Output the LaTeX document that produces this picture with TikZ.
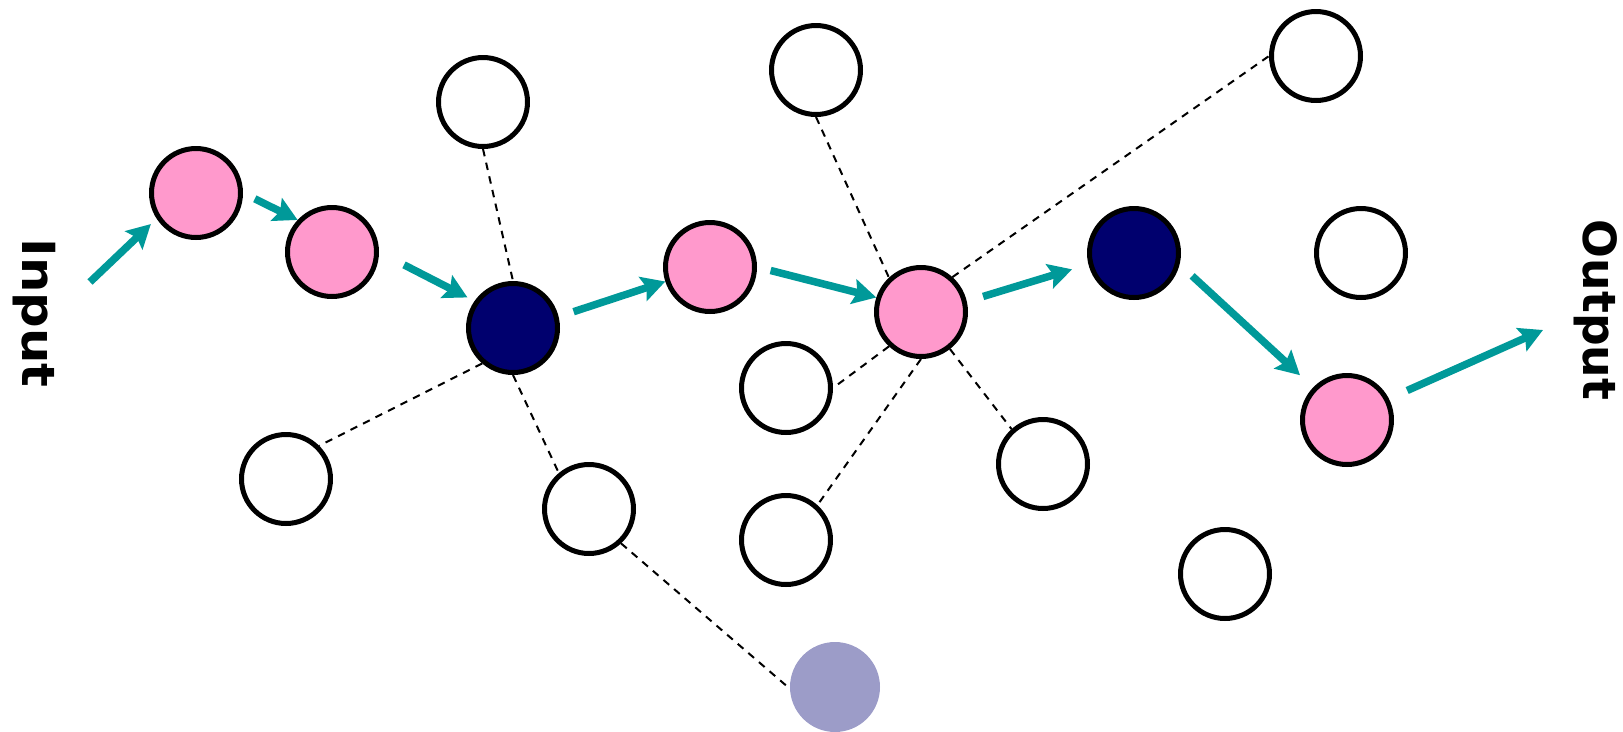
\documentclass[tikz,border=0pt]{standalone}
\usepackage{fontspec}
\newfontfamily\labelfont{DejaVu Sans}
\newfontfamily\widelabelfont{DejaVu Sans}[FakeStretch=1.09]
\usetikzlibrary{arrows.meta}
\definecolor{cellpink}{RGB}{255,153,204}
\definecolor{cellnavy}{RGB}{0,0,110}
\definecolor{cellgrey}{RGB}{156,156,200}
\definecolor{flowteal}{RGB}{0,153,153}
\newcommand*{\PlaceCells}[1]{% #1 = list of name/x/y/color
  \foreach \n/\x/\y/\c in {#1} {
    \node [cell, fill=\c] (\n) at (\x,\y) {};
    }%
}

\begin{document}
\begin{tikzpicture}[x=0.02cm,y=-0.02cm,
    cell/.style={circle,draw=black,line width=0.1cm,minimum size=1.78cm,inner sep=0pt},
    link/.style={black,line width=0.04cm,dash pattern=on 0.15cm off 0.13cm},
    flow/.style={flowteal,line width=0.15cm,-{Stealth[length=0.47cm,width=0.5cm,inset=0.08cm]}},
    tag/.style={font=\labelfont\bfseries\fontsize{26}{30}\selectfont,rotate=-90,inner sep=0pt}]
        \useasboundingbox (0,0) rectangle (1623,731);
        \PlaceCells{p1/196/193/cellpink, p2/332/252/cellpink, w1/483/102/white,
            d1/513/328/cellnavy, w2/286/479/white, w3/589/509/white,
            p3/710/267/cellpink, w4/816/70/white, p4/921/312/cellpink,
            w5/786/388/white, w6/786/540/white, w7/1043/464/white,
            d2/1134/253/cellnavy, w8/1316/56/white, w9/1361/253/white,
            p5/1347/420/cellpink, w10/1225/574/white}
        \node [circle, fill=cellgrey, minimum size=1.8cm, inner sep=0pt] (g1) at (835,687) {};
        % labels
        \node [tag, font=\widelabelfont\bfseries\fontsize{26}{30}\selectfont] (input) at (34.5,313) {Input};
        \node [tag] (output) at (1596,310) {Output};
        \coordinate (in) at (90,282);
        \coordinate (out) at (1543,330);
        % neighbour links
        \foreach \a/\b in {w1.south/d1.north, d1.229/w2.45, d1.south/w3.130, w3.313/g1.182,
            w4.south/p4.133, p4.48/w8.west, p4.227/w5.east, p4.south/w6.48, p4.308/w7.132}
            \draw [link] (\a) -- (\b);
        % path
        \foreach \a/\b/\s/\t in {in/p1.213/0pt/4.5pt, p1.0/p2.137/7.5pt/0pt, p2.0/d1.145/16pt/4.5pt,
            d1.14/p3.198/9pt/0pt, p3.0/p4.162/8pt/0pt, p4.13/d2.194/9.7pt/9.7pt,
            d2.346/p5.136/9.7pt/10.2pt, p5.27/out/11.4pt/0pt}
            \draw [flow, shorten <=\s, shorten >=\t] (\a) -- (\b);
    \end{tikzpicture}
\end{document}
